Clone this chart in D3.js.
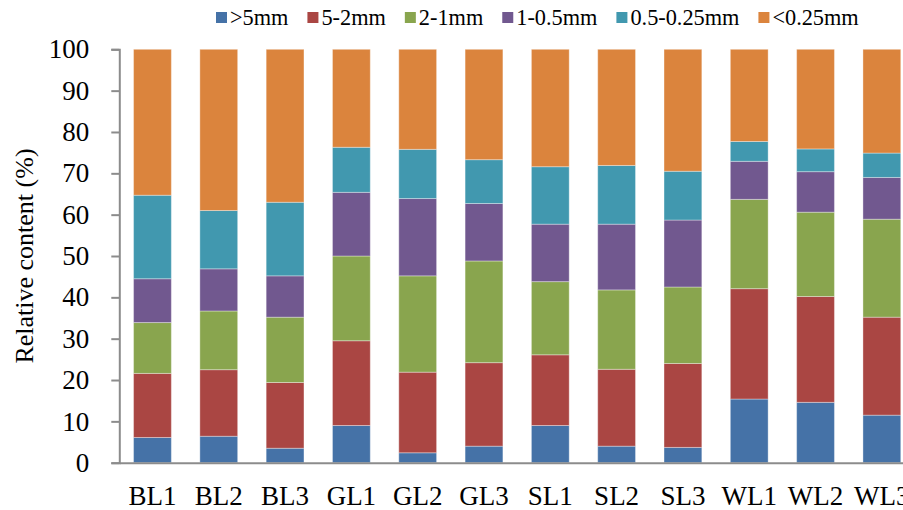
<!DOCTYPE html>
<html>
<head>
<meta charset="utf-8">
<script src="https://cdn.jsdelivr.net/npm/d3@7"></script>
<style>
  body { margin: 0; background: #fff; }
  text { font-family: 'Liberation Serif', 'Times New Roman', serif; fill: #000; }
</style>
</head>
<body>
<div id="chart"></div>
<script>
// sample sites
var categories = ['BL1', 'BL2', 'BL3', 'GL1', 'GL2', 'GL3', 'SL1', 'SL2', 'SL3', 'WL1', 'WL2', 'WL3']

// aggregate size classes, relative content (%)
var seriesNames = ['>5mm', '5-2mm', '2-1mm', '1-0.5mm', '0.5-0.25mm', '<0.25mm']
var over5 = [6.1, 6.4, 3.5, 9.0, 2.4, 4.0, 9.0, 4.0, 3.7, 15.4, 14.6, 11.5]
var from5to2 = [15.5, 16.1, 15.9, 20.5, 19.5, 20.2, 17.1, 18.6, 20.3, 26.7, 25.6, 23.7]
var from2to1 = [12.3, 14.2, 15.8, 20.5, 23.3, 24.6, 17.7, 19.2, 18.5, 21.6, 20.4, 23.7]
var from1to05 = [10.6, 10.2, 10.0, 15.4, 18.7, 13.9, 13.9, 15.9, 16.2, 9.2, 9.8, 10.1]
var from05to025 = [20.2, 14.1, 17.8, 10.9, 11.9, 10.6, 13.9, 14.2, 11.8, 4.8, 5.5, 5.9]
var under025 = [35.3, 39.0, 37.0, 23.7, 24.2, 26.7, 28.4, 28.1, 29.5, 22.3, 24.1, 25.1]

var yTicks = [0, 10, 20, 30, 40, 50, 60, 70, 80, 90, 100]

var colors = ['#4572A7', '#AA4643', '#89A54E', '#71588F', '#4198AF', '#DB843D']

var allSeries = [over5, from5to2, from2to1, from1to05, from05to025, under025]

var rows = categories.map(function(c, i) {
  var r = { site: c }
  seriesNames.forEach(function(k, j) {
    r[k] = allSeries[j][i]
  })
  return r
})

var svgWidth = 903
var svgHeight = 510
// plot runs a little past the right edge, like the original export
var margin = { top: 49.3, left: 119.3, right: -12, bottom: 47.3 }
var width = svgWidth - margin.left - margin.right
var height = svgHeight - margin.top - margin.bottom

var svg = d3
  .select('#chart')
  .append('svg')
  .attr('width', svgWidth)
  .attr('height', svgHeight)

var g = svg.append('g').attr('transform', 'translate(' + margin.left + ',' + margin.top + ')')

var xScale = d3
  .scaleBand()
  .domain(categories)
  .range([0, width])
  .paddingInner(0.43)
  .paddingOuter(0.215)

var yScale = d3
  .scaleLinear()
  .domain([0, 100])
  .range([height, 0])

var colorScale = d3.scaleOrdinal().domain(seriesNames).range(colors)

var stacked = d3.stack().keys(seriesNames)(rows)

g.selectAll('.layer')
  .data(stacked)
  .enter()
  .append('g')
  .attr('class', 'layer')
  .attr('fill', d => colorScale(d.key))
  .selectAll('rect')
  .data(d => d)
  .enter()
  .append('rect')
  .attr('x', d => xScale(d.data.site))
  .attr('width', xScale.bandwidth())
  .attr('y', d => yScale(d[1]))
  .attr('height', d => yScale(d[0]) - yScale(d[1]))
  .attr('stroke', '#fff')
  .attr('stroke-opacity', 0.35)
  .attr('stroke-width', 1)

// y axis
var yAxis = g
  .append('g')
  .call(
    d3
      .axisLeft(yScale)
      .tickValues(yTicks)
      .tickSize(8)
      .tickPadding(22)
  )
yAxis.selectAll('path, line').attr('stroke', '#8c8c8c').attr('stroke-width', 2)
yAxis.selectAll('text').attr('font-size', 27)

// x axis
var xAxis = g
  .append('g')
  .attr('transform', 'translate(0,' + height + ')')
  .call(
    d3
      .axisBottom(xScale)
      .tickSize(0)
      .tickPadding(23)
  )
xAxis.select('.domain').attr('stroke', '#8c8c8c').attr('stroke-width', 2)
xAxis.selectAll('text').attr('font-size', 27)

// axis title
svg
  .append('text')
  .attr('transform', 'translate(33,' + (margin.top + height / 2) + ') rotate(-90)')
  .attr('text-anchor', 'middle')
  .attr('font-size', 26)
  .text('Relative content (%)')

// legend
var legend = svg.append('g').attr('transform', 'translate(216,0)')
var lx = 0
seriesNames.forEach(function(name) {
  var item = legend.append('g').attr('transform', 'translate(' + lx + ',0)')
  item
    .append('rect')
    .attr('x', 0)
    .attr('y', 12)
    .attr('width', 11)
    .attr('height', 11)
    .attr('fill', colorScale(name))
  var t = item
    .append('text')
    .attr('x', 14)
    .attr('y', 25)
    .attr('font-size', 22.3)
    .text(name)
  lx += 14 + t.node().getComputedTextLength() + 19
})
</script>
</body>
</html>
